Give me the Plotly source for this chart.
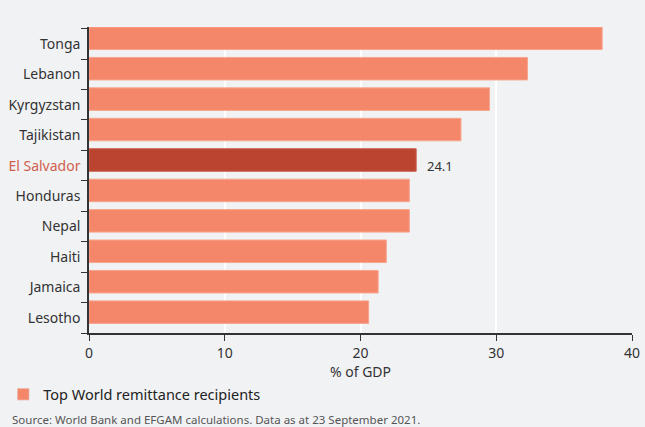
import plotly.graph_objects as go

countries = ["Tonga", "Lebanon", "Kyrgyzstan", "Tajikistan", "El Salvador",
             "Honduras", "Nepal", "Haiti", "Jamaica", "Lesotho"]
values = [37.8, 32.3, 29.5, 27.4, 24.1, 23.6, 23.6, 21.9, 21.3, 20.6]
highlight = "El Salvador"
x_ticks = [0, 10, 20, 30, 40]
legend_name = "Top World remittance recipients"
source_text = "Source: World Bank and EFGAM calculations. Data as at 23 September 2021."

BASE = "#F4876A"
HIGH = "#BA4430"
BG = "#F1F2F4"
FONT = "Noto Sans, sans-serif"

colors = [HIGH if c == highlight else BASE for c in countries]
line_colors = ["#C9604A" if c == highlight else "#F7A58E" for c in countries]
ticktext = [f'<span style="color:#D0604C">{c}</span>' if c == highlight else c for c in countries]
hi_idx = countries.index(highlight)

fig = go.Figure()
fig.add_trace(go.Bar(
    x=values, y=countries, orientation="h",
    marker=dict(color=colors, line=dict(color=line_colors, width=1)),
    width=0.74, showlegend=False,
))
fig.add_trace(go.Bar(
    x=[None], y=[countries[0]], orientation="h", name=legend_name,
    marker=dict(color=BASE), showlegend=True,
))

fig.update_layout(
    width=645, height=427,
    margin=dict(l=89, r=13, t=27, b=94, autoexpand=False),
    paper_bgcolor=BG, plot_bgcolor=BG,
    font=dict(family=FONT, size=14, color="#333333"),
    bargap=0.26,
    legend=dict(
        orientation="h", xref="paper", yref="paper",
        x=-0.158, y=-0.2, xanchor="left", yanchor="middle",
        font=dict(size=14.5, color="#222222"), bgcolor="rgba(0,0,0,0)",
        itemwidth=30,
    ),
    annotations=[
        dict(
            text=f"{values[hi_idx]}", x=values[hi_idx], y=countries[hi_idx],
            xref="x", yref="y", xanchor="left", yanchor="middle", xshift=9,
            showarrow=False, font=dict(size=13, color="#333333"),
        ),
        dict(
            text=source_text, xref="paper", yref="paper",
            x=-0.145, y=-0.284, xanchor="left", yanchor="middle", showarrow=False,
            font=dict(size=11.5, color="#555555"),
        ),
    ],
)
fig.update_xaxes(
    range=[0, 40], tickvals=x_ticks, showgrid=True, gridcolor="#FFFFFF", gridwidth=1.5,
    showline=True, linecolor="#333333", linewidth=1.5, ticks="outside", ticklen=6,
    tickcolor="#333333", zeroline=False, automargin=False,
    title=dict(text="% of GDP", font=dict(size=14, color="#333333"), standoff=6),
    tickfont=dict(size=14, color="#333333"),
)
fig.update_yaxes(
    categoryorder="array", categoryarray=countries, autorange="reversed",
    tickvals=countries, ticktext=ticktext, automargin=False,
    showline=True, linecolor="#333333", linewidth=1.5, ticks="outside", ticklen=6,
    tickcolor="#333333", tickson="boundaries", showgrid=False,
    ticklabelstandoff=4,
    tickfont=dict(size=14, color="#333333"),
)

fig.write_html("out.html")
